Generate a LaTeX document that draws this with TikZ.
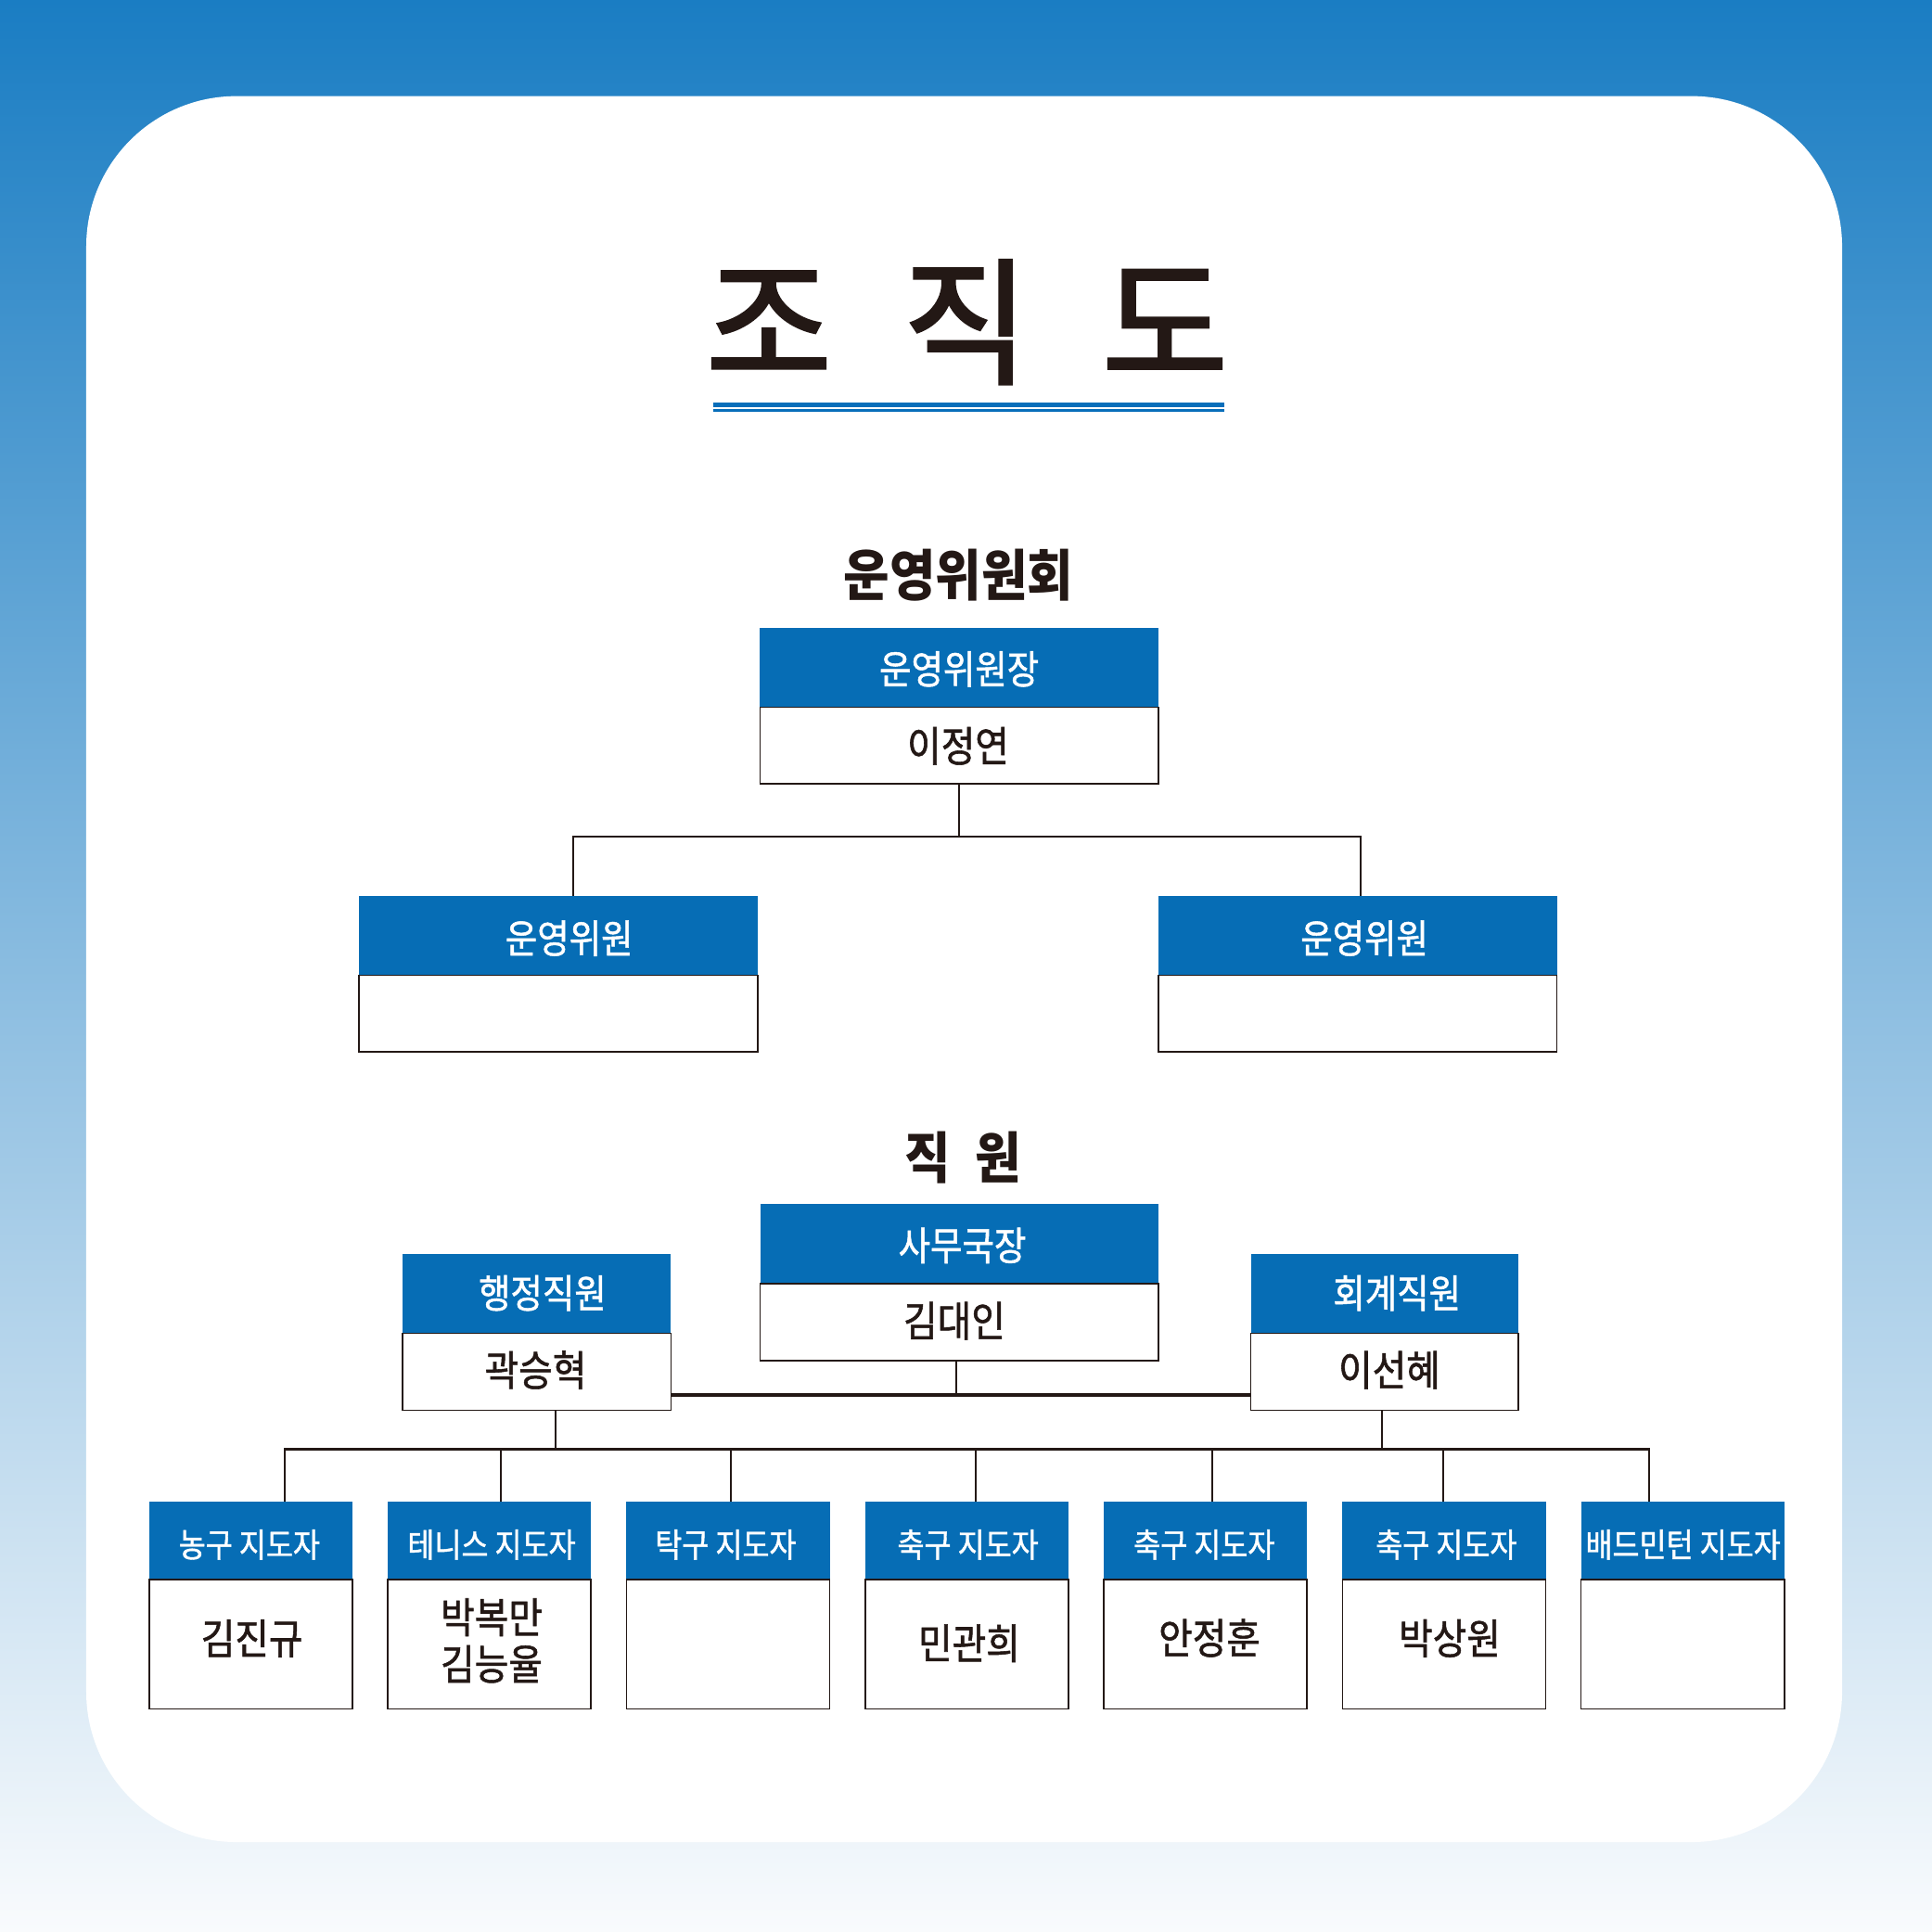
\documentclass[tikz,border=0pt]{standalone}
\usepackage{fontspec}
\newfontfamily\krT[FakeBold=2.2]{Noto Sans CJK KR}
\newfontfamily\krS[FakeStretch=0.90]{Noto Sans CJK KR}
\newfontfamily\krM[FakeStretch=0.88,FakeBold=1.2]{Noto Sans CJK KR}
\definecolor{hblue}{RGB}{6,109,181}
\definecolor{ublue}{RGB}{8,110,186}
\definecolor{ink}{RGB}{35,24,21}
\definecolor{bgTop}{RGB}{26,125,195}
\definecolor{bgMid}{RGB}{140,190,226}
\definecolor{bgBot}{RGB}{249,251,253}
\tikzset{
  hdr/.style={fill=hblue, draw=none, anchor=north west, inner sep=0pt, outer sep=0pt},
  bodybox/.style={fill=white, draw=ink, line width=1.2pt, anchor=north west, inner sep=0pt, outer sep=0pt},
  conn/.style={draw=ink, line width=1.6pt},
  busline/.style={draw=ink, line width=2.3pt},
  titletxt/.style={anchor=base, inner sep=0pt, text=ink, font=\krT\fontsize{111}{111}\selectfont},
  sectxt/.style={inner sep=0pt, text=ink, font=\krS\bfseries\fontsize{45}{45}\selectfont},
  htxt/.style={inner sep=0pt, text=white, font=\krM\fontsize{32}{32}\selectfont},
  htxts/.style={inner sep=0pt, text=white, font=\krM\fontsize{27}{27}\selectfont},
  ntxt/.style={inner sep=0pt, text=ink, font=\krM\fontsize{34}{34}\selectfont},
  ntxt2/.style={inner sep=0pt, text=ink, align=center, font=\krM\fontsize{34}{38}\selectfont},
}
\begin{document}
\begin{tikzpicture}[x=1pt,y=-1pt]
\useasboundingbox (0,0) rectangle (1568,1568);
% background
\shade[top color=bgTop, middle color=bgMid, bottom color=bgBot] (0,0) rectangle (1568,1568);
\fill[white, rounded corners=122pt] (70,78) rectangle (1495,1495);

% title
\node[titletxt] (t1) at (624,303) {조};
\node[titletxt] (t2) at (784,303) {직};
\node[titletxt] (t3) at (945.5,303) {도};
\draw[ublue, line width=3.8pt] (578.5,328.6) -- (994,328.6);
\draw[ublue, line width=1.8pt] (578.5,333.1) -- (994,333.1);

% committee
\node[sectxt] (sec1) at (778,466.6) {운영위원회};
\node[hdr, minimum width=323.4pt, minimum height=64.5pt] (chairH) at (616.8,509.4) {};
\node[bodybox, minimum width=323.4pt, minimum height=62.2pt] (chairB) at (616.8,573.9) {};
\node[htxt] (chairHt) at (778.5,543) {운영위원장};
\node[ntxt] (chairBt) at (777.6,605.4) {이정연};

\node[hdr, minimum width=323.4pt, minimum height=64.5pt] (memLH) at (291.5,727) {};
\node[bodybox, minimum width=323.4pt, minimum height=62.2pt] (memLB) at (291.5,791.5) {};
\node[htxt] (memLHt) at (462,761.5) {운영위원};
\node[hdr, minimum width=323.4pt, minimum height=64.5pt] (memRH) at (940.2,727) {};
\node[bodybox, minimum width=323.4pt, minimum height=62.2pt] (memRB) at (940.2,791.5) {};
\node[htxt] (memRHt) at (1107.4,761.5) {운영위원};

\coordinate (bar1) at (0,678.8);
\coordinate (dL) at ([xshift=12pt]memLH.north);
\coordinate (dR) at ([xshift=2.4pt]memRH.north);
\draw[conn] (chairB.south) -- (chairB.south |- bar1);
\draw[conn] (dL) |- (dR |- bar1) -- (dR);

% staff
\node[sectxt] (sec2) at (781.6,939.3) {직\hspace{20pt}원};
\node[hdr, minimum width=323.4pt, minimum height=64.3pt] (dirH) at (617,977.3) {};
\node[bodybox, minimum width=323.4pt, minimum height=62.7pt] (dirB) at (617,1041.6) {};
\node[htxt] (dirHt) at (781,1010.8) {사무국장};
\node[ntxt] (dirBt) at (774.6,1072) {김대인};

\node[hdr, minimum width=217.8pt, minimum height=64pt] (admH) at (326.7,1018) {};
\node[bodybox, minimum width=217.8pt, minimum height=62.7pt] (admB) at (326.7,1082) {};
\node[htxt] (admHt) at (440.3,1049.5) {행정직원};
\node[ntxt] (admBt) at (434.7,1111.9) {곽승혁};

\node[hdr, minimum width=217.1pt, minimum height=64pt] (accH) at (1015.2,1018) {};
\node[bodybox, minimum width=217.1pt, minimum height=62.7pt] (accB) at (1015.2,1082) {};
\node[htxt] (accHt) at (1133.8,1049.5) {회계직원};
\node[ntxt] (accBt) at (1127.6,1111.9) {이선혜};

\coordinate (bar2) at (0,1132.2);
\coordinate (bus) at (0,1176.4);
\coordinate (uD) at ([xshift=-2.9pt]dirB.south);
\draw[conn] (uD) -- (uD |- bar2);
\draw[draw=ink, line width=2.8pt] (admB.east |- bar2) -- (accB.west |- bar2);
\coordinate (uA) at ([xshift=15.4pt]admB.south);
\coordinate (uB) at ([xshift=-2.4pt]accB.south);
\draw[conn] (uA) -- (uA |- bus);
\draw[conn] (uB) -- (uB |- bus);

% bottom row
\foreach \i/\lx in {1/121,2/314.7,3/508.4,4/702.1,5/895.8,6/1089.5,7/1283.2}{
  \node[hdr, minimum width=165pt, minimum height=63.2pt] (b\i H) at (\lx,1218.8) {};
  \node[bodybox, minimum width=165pt, minimum height=105pt] (b\i B) at (\lx,1282) {};
}
\node[htxts] (b1Ht) at (202.4,1253.6) {농구 지도자};
\node[htxts] (b2Ht) at (399,1253.6) {테니스 지도자};
\node[htxts] (b3Ht) at (589,1253.6) {탁구 지도자};
\node[htxts] (b4Ht) at (785.6,1253.6) {축구 지도자};
\node[htxts] (b5Ht) at (977.3,1253.6) {축구 지도자};
\node[htxts] (b6Ht) at (1173.8,1253.6) {축구 지도자};
\node[htxts] (b7Ht) at (1366,1253.6) {배드민턴 지도자};

\node[ntxt] (b1Bt) at (204.5,1329.7) {김진규};
\node[ntxt2] (b2Bt) at (399,1331.5) {박복만\\김능율};
\node[ntxt] (b4Bt) at (786.6,1333.7) {민관희};
\node[ntxt] (b5Bt) at (981.6,1329.3) {안정훈};
\node[ntxt] (b6Bt) at (1176.6,1329.7) {박상원};

\coordinate (d1) at ([xshift=27.7pt]b1H.north);
\coordinate (d2) at ([xshift=9.5pt]b2H.north);
\coordinate (d3) at ([xshift=2pt]b3H.north);
\coordinate (d4) at ([xshift=7.3pt]b4H.north);
\coordinate (d5) at ([xshift=5.4pt]b5H.north);
\coordinate (d6) at ([xshift=-0.7pt]b6H.north);
\coordinate (d7) at ([xshift=-27pt]b7H.north);
\draw[busline] ([xshift=-0.8pt]d1 |- bus) -- ([xshift=0.8pt]d7 |- bus);
\foreach \k in {1,...,7}{
  \draw[conn] (d\k |- bus) -- (d\k);
}
\end{tikzpicture}
\end{document}
